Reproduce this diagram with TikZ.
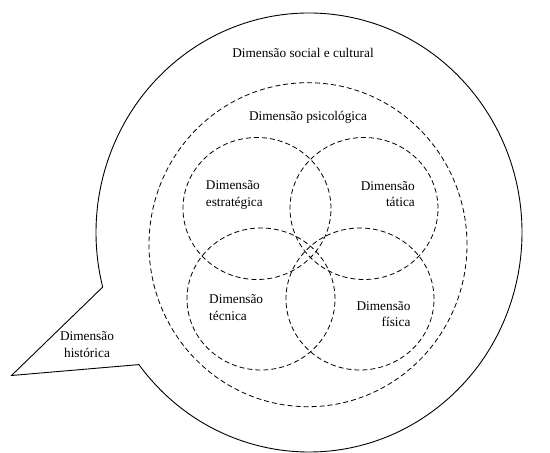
\documentclass[tikz,border=0pt]{standalone}
\usepackage{fontspec}
\setmainfont{Liberation Serif}
\usetikzlibrary{calc}
\tikzset{
  dimline/.style={dash pattern=on 5pt off 3pt, line width=0.8pt},
  lbl/.style={font=\fontsize{13.3}{16.5}\selectfont, inner sep=0pt}
}

\begin{document}
\begin{tikzpicture}[x=1pt,y=1pt]
			%%%%% START %%%%%
			\useasboundingbox (0,0) rectangle (550,453);
			
			% speech bubble
			\draw[line width=0.9pt, line join=miter] (309,220.5) ++(217:213 and 219.5) arc[start angle=217, end angle=554.4, x radius=213, y radius=219.5] -- (11.5,77.5) -- cycle;
			
			\draw[dimline] (308,208.3) ellipse [x radius=159, y radius=162];
			
			\draw[dimline] (257,244.5) ellipse [x radius=74, y radius=71];
			\draw[dimline] (364,244.5) ellipse [x radius=74, y radius=71];
			\draw[dimline] (261,154) ellipse [x radius=74, y radius=71];
			\draw[dimline] (360,154) ellipse [x radius=74, y radius=71];
			
			\node[lbl] (social) at (303,400) {Dimensão social e cultural};
			\node[lbl] (psico) at (308,335.7) {Dimensão psicológica};
			\node[lbl, align=left, anchor=west] (estrat) at (205.7,258) {Dimensão\\estratégica};
			\node[lbl, align=right, anchor=east] (tatica) at (415,259) {Dimensão\\tática};
			\node[lbl, align=left, anchor=west] (tecnica) at (209,145.3) {Dimensão\\técnica};
			\node[lbl, align=right, anchor=east] (fisica) at (410.7,138.7) {Dimensão\\física};
			\node[lbl, align=center] (hist) at (87,108.2) {Dimensão\\histórica};
			
			%%%%% END %%%%%
\end{tikzpicture}
\end{document}
